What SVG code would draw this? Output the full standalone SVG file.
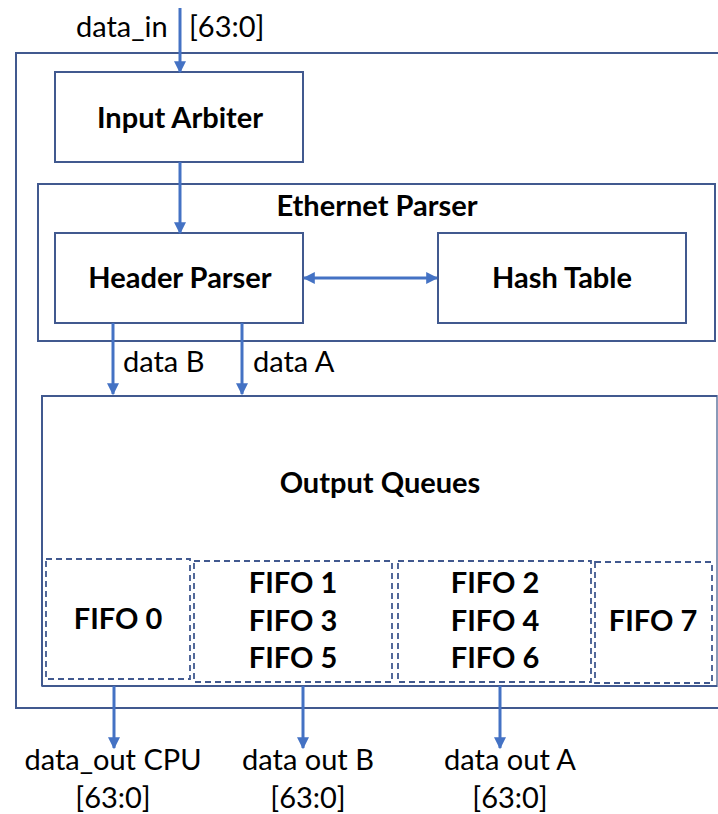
<svg xmlns="http://www.w3.org/2000/svg" width="718" height="814" viewBox="0 0 718 814">
<defs>
<marker id="ah" viewBox="0 0 10 10" refX="9" refY="5" markerWidth="4" markerHeight="4" orient="auto-start-reverse" markerUnits="strokeWidth">
<path d="M0,0 L10,5 L0,10 z" fill="#4472C4"/>
</marker>
<style>
.box{fill:#fff;stroke:#41598f;stroke-width:2}
.dash{fill:none;stroke:#41598f;stroke-width:1.8;stroke-dasharray:6,4}
.conn{stroke:#4472C4;stroke-width:3;fill:none}
.b{font-family:Lato,"Liberation Sans",sans-serif;font-weight:bold;font-size:29px;fill:#000;text-anchor:middle}
.n{font-family:Lato,"Liberation Sans",sans-serif;font-size:29px;fill:#000}
.c{text-anchor:middle}
</style>
</defs>
<rect width="718" height="814" fill="#fff"/>
<g id="outer"><rect class="box" x="16" y="53" width="720" height="655"/></g>
<g id="input-arbiter"><rect class="box" x="55" y="72" width="248" height="90"/><text class="b" x="180" y="128">Input Arbiter</text></g>
<g id="ethernet-parser"><rect class="box" x="38" y="184" width="677" height="157"/><text class="b" x="377" y="216">Ethernet Parser</text></g>
<g id="header-parser"><rect class="box" x="55" y="233" width="248" height="90"/><text class="b" x="180" y="288">Header Parser</text></g>
<g id="hash-table"><rect class="box" x="438" y="233" width="248" height="90"/><text class="b" x="562" y="288">Hash Table</text></g>
<g id="output-queues"><rect class="box" x="42" y="396" width="675" height="290" style="stroke:#8a9ab8"/><path d="M42,686 V396 H717" fill="none" stroke="#41598f" stroke-width="2"/><path d="M42,686 H717" fill="none" stroke="#41598f" stroke-width="2"/><text class="b" x="380" y="493">Output Queues</text></g>
<g id="fifo0"><rect class="dash" x="46" y="559" width="144" height="120"/><text class="b" x="118" y="629">FIFO 0</text></g>
<g id="fifo135"><rect class="dash" x="194" y="561" width="198" height="121"/><text class="b" x="293" y="593">FIFO 1</text><text class="b" x="293" y="631">FIFO 3</text><text class="b" x="293" y="668">FIFO 5</text></g>
<g id="fifo246"><rect class="dash" x="398" y="561" width="193" height="121"/><text class="b" x="495" y="593">FIFO 2</text><text class="b" x="495" y="631">FIFO 4</text><text class="b" x="495" y="668">FIFO 6</text></g>
<g id="fifo7"><rect class="dash" x="595" y="562" width="117" height="121"/><text class="b" x="653" y="631">FIFO 7</text></g>
<g id="connectors">
<line class="conn" x1="180" y1="8" x2="180" y2="72" marker-end="url(#ah)"/>
<line class="conn" x1="180" y1="162" x2="180" y2="233" marker-end="url(#ah)"/>
<line class="conn" x1="304" y1="278" x2="437" y2="278" marker-start="url(#ah)" marker-end="url(#ah)"/>
<line class="conn" x1="113" y1="323" x2="113" y2="394" marker-end="url(#ah)"/>
<line class="conn" x1="242" y1="323" x2="242" y2="394" marker-end="url(#ah)"/>
<line class="conn" x1="114" y1="686" x2="114" y2="748" marker-end="url(#ah)"/>
<line class="conn" x1="303" y1="686" x2="303" y2="748" marker-end="url(#ah)"/>
<line class="conn" x1="500" y1="686" x2="500" y2="748" marker-end="url(#ah)"/>
</g>
<g id="labels">
<text class="n" x="76" y="37">data_in</text>
<text class="n" x="189" y="37">[63:0]</text>
<text class="n" x="123" y="372">data B</text>
<text class="n" x="253" y="372">data A</text>
<text class="n c" x="113" y="770">data_out CPU</text>
<text class="n c" x="113" y="808">[63:0]</text>
<text class="n c" x="308" y="770">data out B</text>
<text class="n c" x="308" y="808">[63:0]</text>
<text class="n c" x="510" y="770">data out A</text>
<text class="n c" x="510" y="808">[63:0]</text>
</g>
</svg>
